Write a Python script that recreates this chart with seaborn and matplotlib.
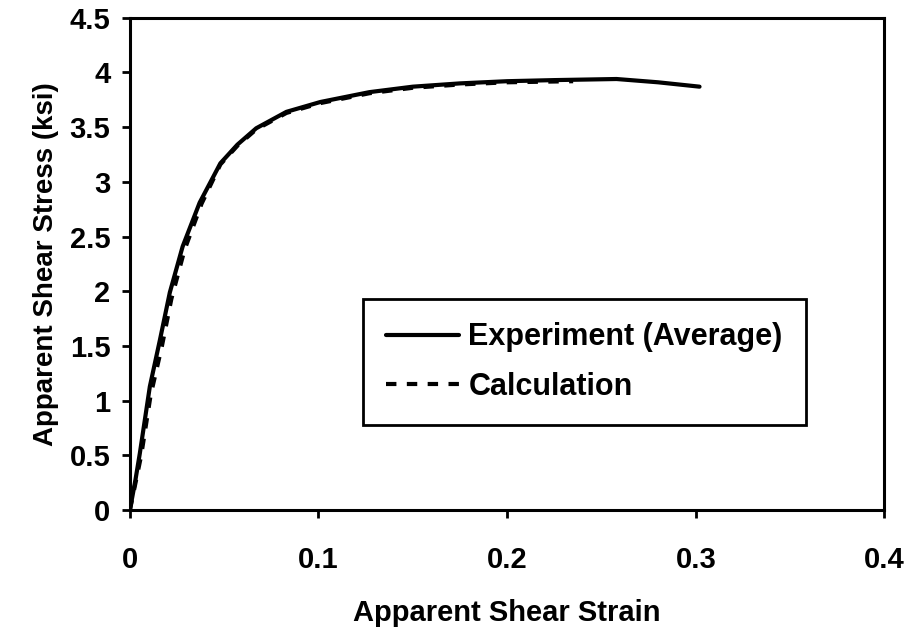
import matplotlib
matplotlib.use("Agg")
import matplotlib.pyplot as plt
import seaborn as sns
import pandas as pd

# apparent shear strain / stress (ksi)
exp_strain = [0.0, 0.003, 0.0053, 0.0106, 0.016, 0.0212, 0.028, 0.037, 0.048, 0.057,
              0.067, 0.083, 0.101, 0.127, 0.15, 0.175, 0.2, 0.225, 0.258, 0.28, 0.302]
exp_stress = [0.0, 0.28, 0.52, 1.13, 1.56, 1.99, 2.41, 2.81, 3.17, 3.34,
              3.49, 3.64, 3.73, 3.82, 3.87, 3.90, 3.92, 3.93, 3.94, 3.91, 3.87]

calc_strain = [0.0, 0.003, 0.006, 0.011, 0.017, 0.022, 0.029, 0.038, 0.048, 0.057,
               0.067, 0.083, 0.101, 0.127, 0.15, 0.175, 0.2, 0.235]
calc_stress = [0.0, 0.25, 0.50, 1.05, 1.50, 1.93, 2.38, 2.80, 3.16, 3.33,
               3.48, 3.63, 3.72, 3.81, 3.86, 3.89, 3.91, 3.92]

df = pd.concat([
    pd.DataFrame({"strain": exp_strain, "stress": exp_stress, "series": "Experiment (Average)"}),
    pd.DataFrame({"strain": calc_strain, "stress": calc_stress, "series": "Calculation"}),
])

sns.set_style("white")
plt.rcParams["font.family"] = ["Liberation Sans", "DejaVu Sans"]
plt.rcParams["font.weight"] = "bold"
plt.rcParams["text.color"] = "black"
plt.rcParams["axes.labelcolor"] = "black"

fig = plt.figure(figsize=(9.08, 6.33), dpi=100)
ax = fig.add_axes([0.143, 0.194, 0.831, 0.778])

sns.lineplot(data=df, x="strain", y="stress", hue="series", style="series",
             palette=["black", "black"], dashes=[(None, None), (2.5, 2.5)],
             linewidth=3, sort=False, ax=ax)

ax.set_xlim(0, 0.4)
ax.set_ylim(0, 4.5)
ax.set_xticks([0, 0.1, 0.2, 0.3, 0.4])
ax.set_xticklabels(["0", "0.1", "0.2", "0.3", "0.4"])
ax.set_yticks([0, 0.5, 1, 1.5, 2, 2.5, 3, 3.5, 4, 4.5])
ax.set_yticklabels(["0", "0.5", "1", "1.5", "2", "2.5", "3", "3.5", "4", "4.5"])
ax.tick_params(direction="out", length=6, width=2, labelsize=21,
               bottom=True, left=True, colors="black")
ax.tick_params(axis="x", pad=20)
ax.tick_params(axis="y", pad=8)
for s in ax.spines.values():
    s.set_color("black")
    s.set_linewidth(2.2)

ax.set_xlabel("Apparent Shear Strain", fontsize=21, fontweight="bold", labelpad=18)
ax.set_ylabel("Apparent Shear Stress (ksi)", fontsize=20, fontweight="bold", labelpad=8)

leg = ax.legend(loc="lower left", bbox_to_anchor=(0.309, 0.173), borderaxespad=0,
                fontsize=22, frameon=True, fancybox=False, framealpha=1,
                handlelength=2.4, handletextpad=0.3, borderpad=0.75, labelspacing=0.65)
leg.get_frame().set_edgecolor("black")
leg.get_frame().set_linewidth(2)
for t in leg.get_texts():
    t.set_fontweight("bold")

fig.savefig("out.png", dpi=100)
